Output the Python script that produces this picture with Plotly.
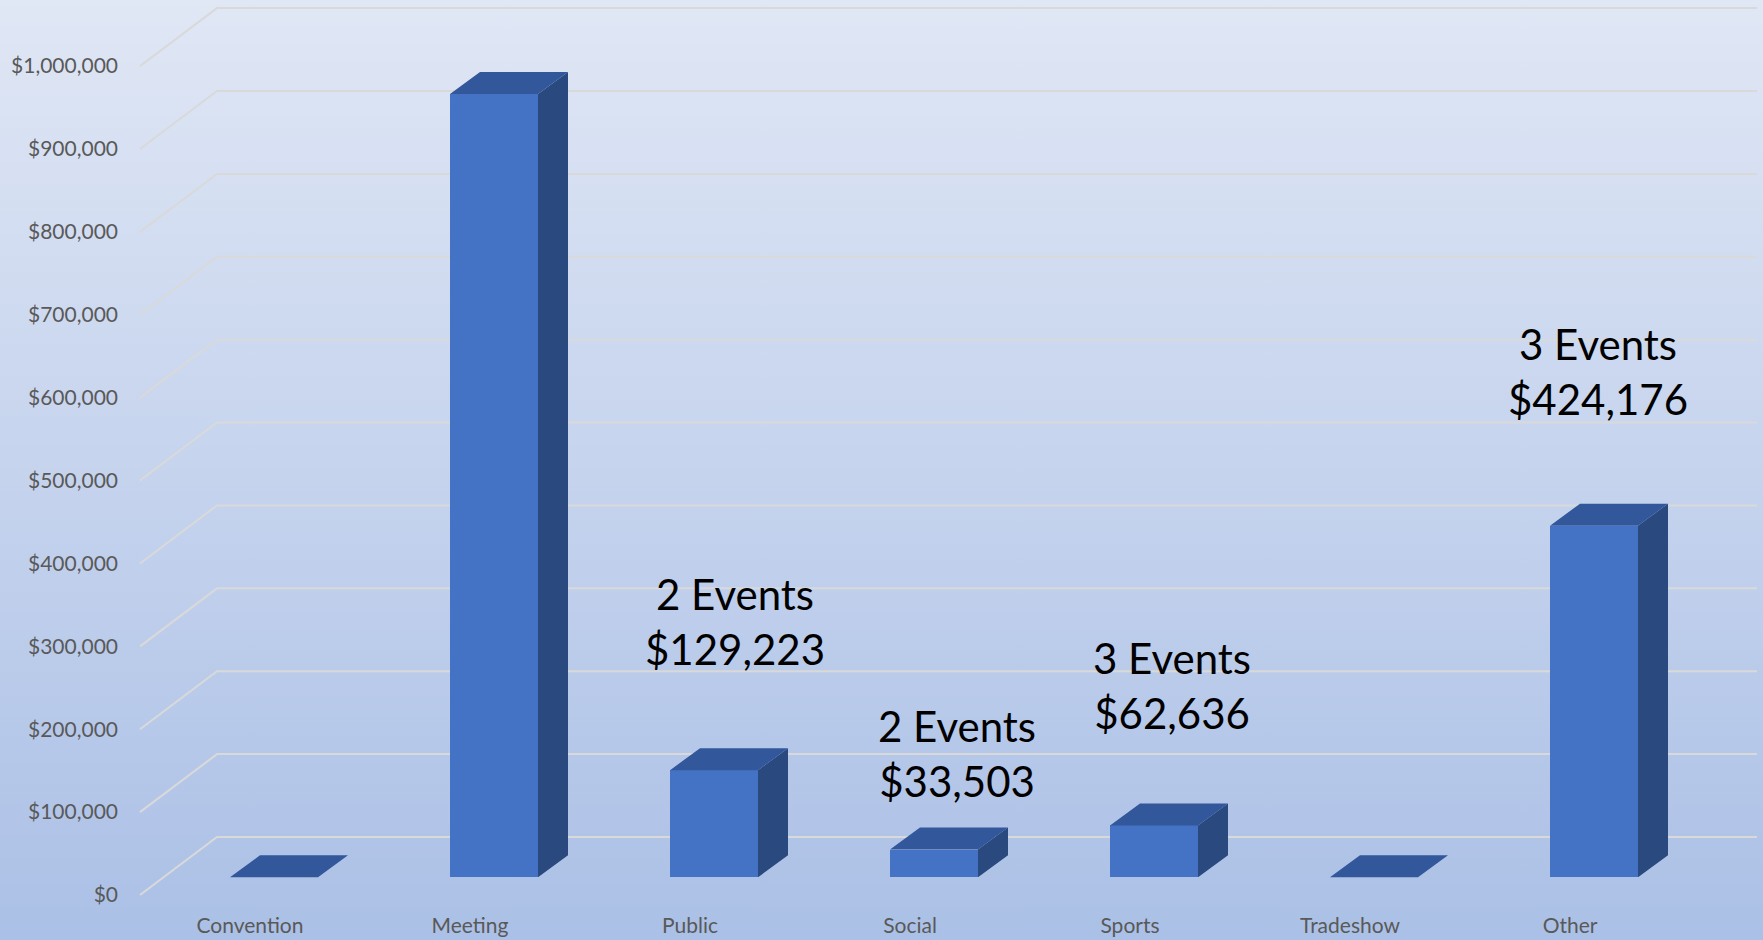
import plotly.graph_objects as go

# ---------------- data ----------------
categories = ["Convention", "Meeting", "Public", "Social", "Sports", "Tradeshow", "Other"]
revenue = [0, 945000, 129223, 33503, 62636, 0, 424176]
event_counts = [None, None, 2, 2, 3, None, 3]
y_ticks = [0, 100000, 200000, 300000, 400000, 500000, 600000, 700000, 800000, 900000, 1000000]
y_tick_text = [f"${v:,}" for v in y_ticks]

# ---------------- geometry / style ----------------
W, H = 1763, 940
CAT_PX = 220.0          # px per category
X0_PX = 250.0           # px of category 0 (front plane)
FLOOR_PX = 895.0        # px of $0 at front plane
PX_PER_USD = 0.0008289

x_range = [(0 - X0_PX) / CAT_PX, (W - X0_PX) / CAT_PX]
y_range = [(FLOOR_PX - H) / PX_PER_USD, FLOOR_PX / PX_PER_USD]

WALL_DX, WALL_DY = 77 / CAT_PX, 58 / PX_PER_USD        # back wall depth
BAR_DX, BAR_DY = 24 / CAT_PX, 17.7 / PX_PER_USD          # bar front-face offset
DEPTH_DX, DEPTH_DY = 30 / CAT_PX, 22 / PX_PER_USD        # bar depth
HALF_W = 0.2

FRONT = "#4472c4"
TOP = "#32579a"
SIDE = "#29497f"
GRID = "#d9d9d9"
TICK_FONT = dict(family="Lato", size=21, color="#595959")

# label manual offsets (px) relative to bar front centre / top
label_dx = [0, 0, 21, 23, 18, 0, 4]
label_dy = [0, 0, 149, 96, 140, 0, 154]

fig = go.Figure()

# background gradient
fig.add_trace(go.Scatter(
    x=[x_range[0], x_range[1], x_range[1], x_range[0], x_range[0]],
    y=[y_range[0], y_range[0], y_range[1], y_range[1], y_range[0]],
    mode="lines", fill="toself", line=dict(width=0),
    fillgradient=dict(type="vertical",
                      colorscale=[[0, "rgb(171,192,230)"], [1, "rgb(224,231,245)"]]),
    hoverinfo="skip", showlegend=False))

# gridlines: front diagonal + back wall
gx, gy = [], []
n = len(categories)
for v in y_ticks:
    gx += [-0.5, -0.5 + WALL_DX, n - 0.5 + WALL_DX, None]
    gy += [v, v + WALL_DY, v + WALL_DY, None]
fig.add_trace(go.Scatter(x=gx, y=gy, mode="lines", line=dict(color=GRID, width=2),
                         hoverinfo="skip", showlegend=False))

# bars front faces
xs = [i + BAR_DX for i in range(n)]
fig.add_trace(go.Bar(x=xs, y=revenue, base=BAR_DY, width=2 * HALF_W,
                     marker=dict(color=FRONT, line=dict(width=0)),
                     xaxis="x2", yaxis="y2", showlegend=False, hoverinfo="skip"))

# top and side faces
tx, ty, sx, sy = [], [], [], []
for xc, v in zip(xs, revenue):
    xl, xr = xc - HALF_W, xc + HALF_W
    top = BAR_DY + v
    tx += [xl, xr, xr + DEPTH_DX, xl + DEPTH_DX, xl, None]
    ty += [top, top, top + DEPTH_DY, top + DEPTH_DY, top, None]
    if v > 0:
        sx += [xr, xr, xr + DEPTH_DX, xr + DEPTH_DX, xr, None]
        sy += [BAR_DY, top, top + DEPTH_DY, BAR_DY + DEPTH_DY, BAR_DY, None]
fig.add_trace(go.Scatter(x=sx, y=sy, mode="lines", fill="toself", fillcolor=SIDE,
                         line=dict(width=0), xaxis="x2", yaxis="y2",
                         hoverinfo="skip", showlegend=False))
fig.add_trace(go.Scatter(x=tx, y=ty, mode="lines", fill="toself", fillcolor=TOP,
                         line=dict(width=0), xaxis="x2", yaxis="y2",
                         hoverinfo="skip", showlegend=False))

# data labels
for i, (xc, v, c) in enumerate(zip(xs, revenue, event_counts)):
    if c is None:
        continue
    fig.add_annotation(x=xc, y=BAR_DY + v, xref="x2", yref="y2",
                       text=f"{c} Events<br>${v:,}", showarrow=False,
                       xanchor="center", yanchor="middle",
                       xshift=label_dx[i], yshift=label_dy[i],
                       font=dict(family="Lato", size=42, color="black"))

fig.update_layout(
    width=W, height=H, margin=dict(l=0, r=0, t=0, b=0),
    paper_bgcolor="rgb(224,231,245)", plot_bgcolor="rgba(0,0,0,0)",
    showlegend=False, bargap=0,
    xaxis=dict(range=x_range, domain=[0, 1], anchor="free", position=(H - FLOOR_PX) / H,
               tickvals=list(range(n)), ticktext=categories, tickfont=TICK_FONT,
               showgrid=False, zeroline=False, showline=False, ticks="",
               ticklabelstandoff=16, fixedrange=True),
    yaxis=dict(range=y_range, domain=[0, 1], anchor="free", position=140 / W,
               tickvals=y_ticks, ticktext=y_tick_text, tickfont=TICK_FONT,
               showgrid=False, zeroline=False, showline=False, ticks="",
               ticklabelstandoff=22, fixedrange=True),
    xaxis2=dict(range=x_range, overlaying="x", anchor="y2", visible=False, fixedrange=True),
    yaxis2=dict(range=y_range, overlaying="y", anchor="x2", visible=False, fixedrange=True),
)

fig.write_html("out.html", config={"displayModeBar": False},
               post_script="document.body.style.margin='0';document.body.style.overflow='hidden';")
